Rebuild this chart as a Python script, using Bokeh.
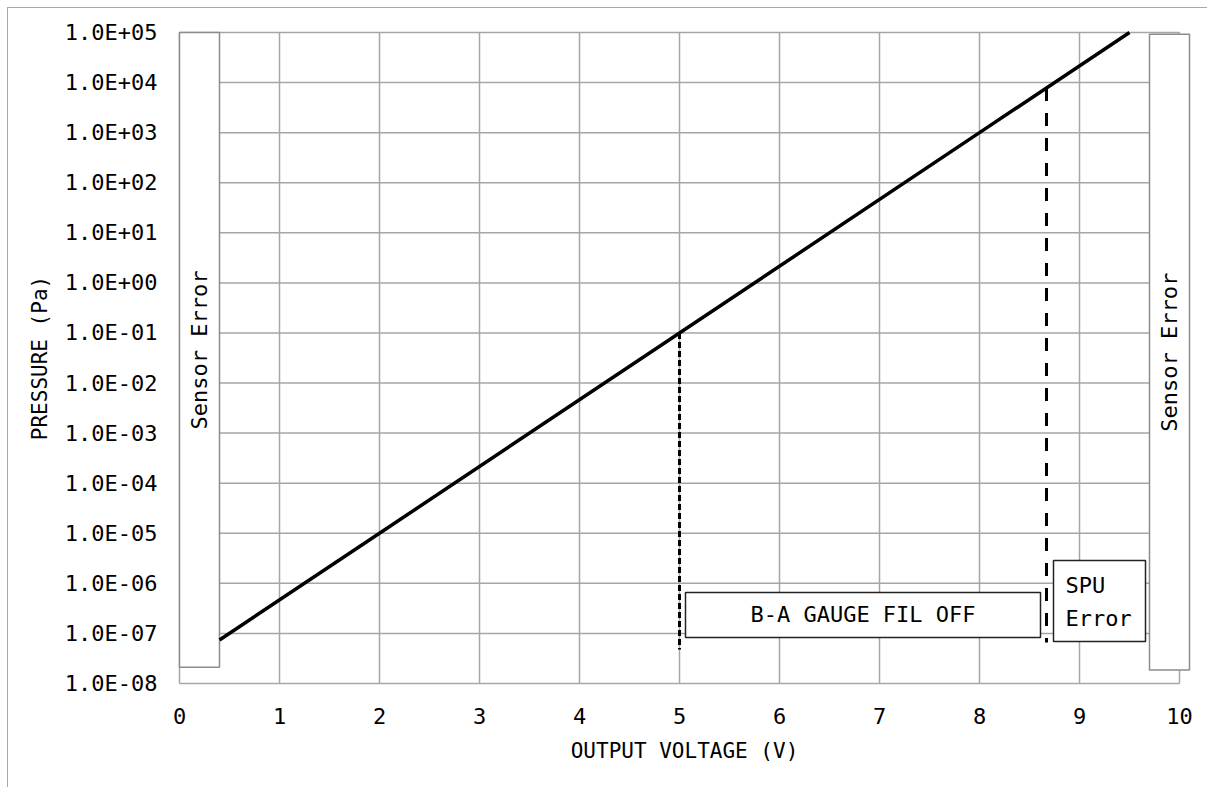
import math
from bokeh.plotting import figure
from bokeh.models import Range1d, FixedTicker
from bokeh.core.properties import value
from bokeh.embed import file_html
from bokeh.resources import INLINE

# ---- data ----
voltage = [0.4, 2.0, 5.0, 8.0, 9.5]
pressure = [7.4e-8, 1e-5, 1e-1, 1e3, 1e5]

x_ticks = [0, 1, 2, 3, 4, 5, 6, 7, 8, 9, 10]
x_labels = ["0", "1", "2", "3", "4", "5", "6", "7", "8", "9", "10"]
y_ticks = [1e-8, 1e-7, 1e-6, 1e-5, 1e-4, 1e-3, 1e-2, 1e-1, 1e0, 1e1, 1e2, 1e3, 1e4, 1e5]
y_labels = ["1.0E-08", "1.0E-07", "1.0E-06", "1.0E-05", "1.0E-04", "1.0E-03", "1.0E-02",
            "1.0E-01", "1.0E+00", "1.0E+01", "1.0E+02", "1.0E+03", "1.0E+04", "1.0E+05"]

# dashed markers: filament-off threshold and SPU error threshold
fil_v = [5.0, 5.0]
fil_p = [1e-1, 4.8e-8]
spu_v = [8.67, 8.67]
spu_p = [7.8e3, 6.6e-8]

# annotation boxes: left sensor error, right sensor error, B-A gauge, SPU error
box_names = ["Sensor Error", "Sensor Error", "B-A GAUGE FIL OFF", "SPU Error"]
box_left = [0.0, 9.70, 5.06, 8.74]
box_right = [0.40, 10.10, 8.61, 9.66]
box_bottom = [2.1e-8, 1.85e-8, 8.3e-8, 6.9e-8]
box_top = [1e5, 9.25e4, 6.6e-7, 2.85e-6]

FONT = "DejaVu Sans Mono"
GRID = "#a6a6a6"

p = figure(width=1200, height=780,
           x_range=Range1d(-0.02, 10.12),
           y_range=Range1d(10 ** -8.04, 10 ** 5.04),
           y_axis_type="log",
           output_backend="svg", toolbar_location=None,
           min_border_left=169, min_border_right=17,
           min_border_top=22, min_border_bottom=103)
p.outline_line_color = None
p.grid.visible = False
p.styles = {"margin-left": "7px", "margin-top": "7px",
            "border-top": "1px solid #a8a8a8", "border-left": "1px solid #a8a8a8"}

p.xaxis.ticker = FixedTicker(ticks=x_ticks, minor_ticks=[])
p.xaxis.major_label_overrides = {t: l for t, l in zip(x_ticks, x_labels)}
p.yaxis.ticker = FixedTicker(ticks=y_ticks, minor_ticks=[])
p.yaxis.major_label_overrides = {t: l for t, l in zip(y_ticks, y_labels)}
p.xaxis.axis_label = "OUTPUT VOLTAGE (V)"
p.yaxis.axis_label = "PRESSURE (Pa)"

for ax in (p.xaxis[0], p.yaxis[0]):
    ax.axis_line_color = None
    ax.major_tick_line_color = None
    ax.minor_tick_line_color = None
    ax.major_tick_out = 0
    ax.major_tick_in = 0
    ax.major_label_text_font = FONT
    ax.major_label_text_font_size = "22px"
    ax.major_label_text_color = "black"
    ax.axis_label_text_font = FONT
    ax.axis_label_text_font_size = "21px"
    ax.axis_label_text_font_style = "normal"
    ax.axis_label_text_color = "black"
p.yaxis.major_label_standoff = 20
p.yaxis.axis_label_standoff = 10
p.xaxis.major_label_standoff = 22
p.xaxis.axis_label_standoff = 12

# grid drawn from tick lists so it stops at x=10
n = len(x_ticks)
m = len(y_ticks)
p.segment(x0=x_ticks, y0=[y_ticks[0]] * n, x1=x_ticks, y1=[y_ticks[-1]] * n,
          line_color=GRID, line_width=1.5)
p.segment(x0=[x_ticks[0]] * m, y0=y_ticks, x1=[x_ticks[-1]] * m, y1=y_ticks,
          line_color=GRID, line_width=1.5)

# boxes
box_colors = ["#8c8c8c", "#8c8c8c", "#222222", "#222222"]
p.quad(left=box_left, right=box_right, bottom=box_bottom, top=box_top,
       fill_color="white", line_color=box_colors, line_width=1.5)

# main line
p.line(voltage, pressure, line_color="black", line_width=3.5)

# dashed thresholds
p.line(fil_v, fil_p, line_color="black", line_width=3, line_dash="6 3")
p.line(spu_v, spu_p, line_color="black", line_width=3, line_dash="13 12")

# texts
def gmean(a, b):
    return math.sqrt(a * b)

# rotated "Sensor Error" labels
se_x = [(box_left[i] + box_right[i]) / 2 for i in (0, 1)]
se_y = [gmean(box_bottom[i], box_top[i]) for i in (0, 1)]
p.text(x=se_x, y=se_y, text=[box_names[0], box_names[1]], angle=math.pi / 2,
       text_font=value(FONT), text_font_size="22px", text_color="black",
       text_align="center", text_baseline="middle")

# B-A GAUGE FIL OFF
p.text(x=[(box_left[2] + box_right[2]) / 2], y=[gmean(box_bottom[2], box_top[2])],
       text=[box_names[2]], text_font=value(FONT), text_font_size="22px",
       text_color="black", text_align="center", text_baseline="middle")

# SPU Error (two lines, left aligned)
spu_words = box_names[3].split(" ")
p.text(x=[box_left[3]] * 2, y=[gmean(box_bottom[3], box_top[3])] * 2,
       text=spu_words, x_offset=[12, 12], y_offset=[-16, 17],
       text_font=value(FONT), text_font_size="22px", text_color="black",
       text_align="left", text_baseline="middle")

open("out.html", "w").write(file_html(p, INLINE))
